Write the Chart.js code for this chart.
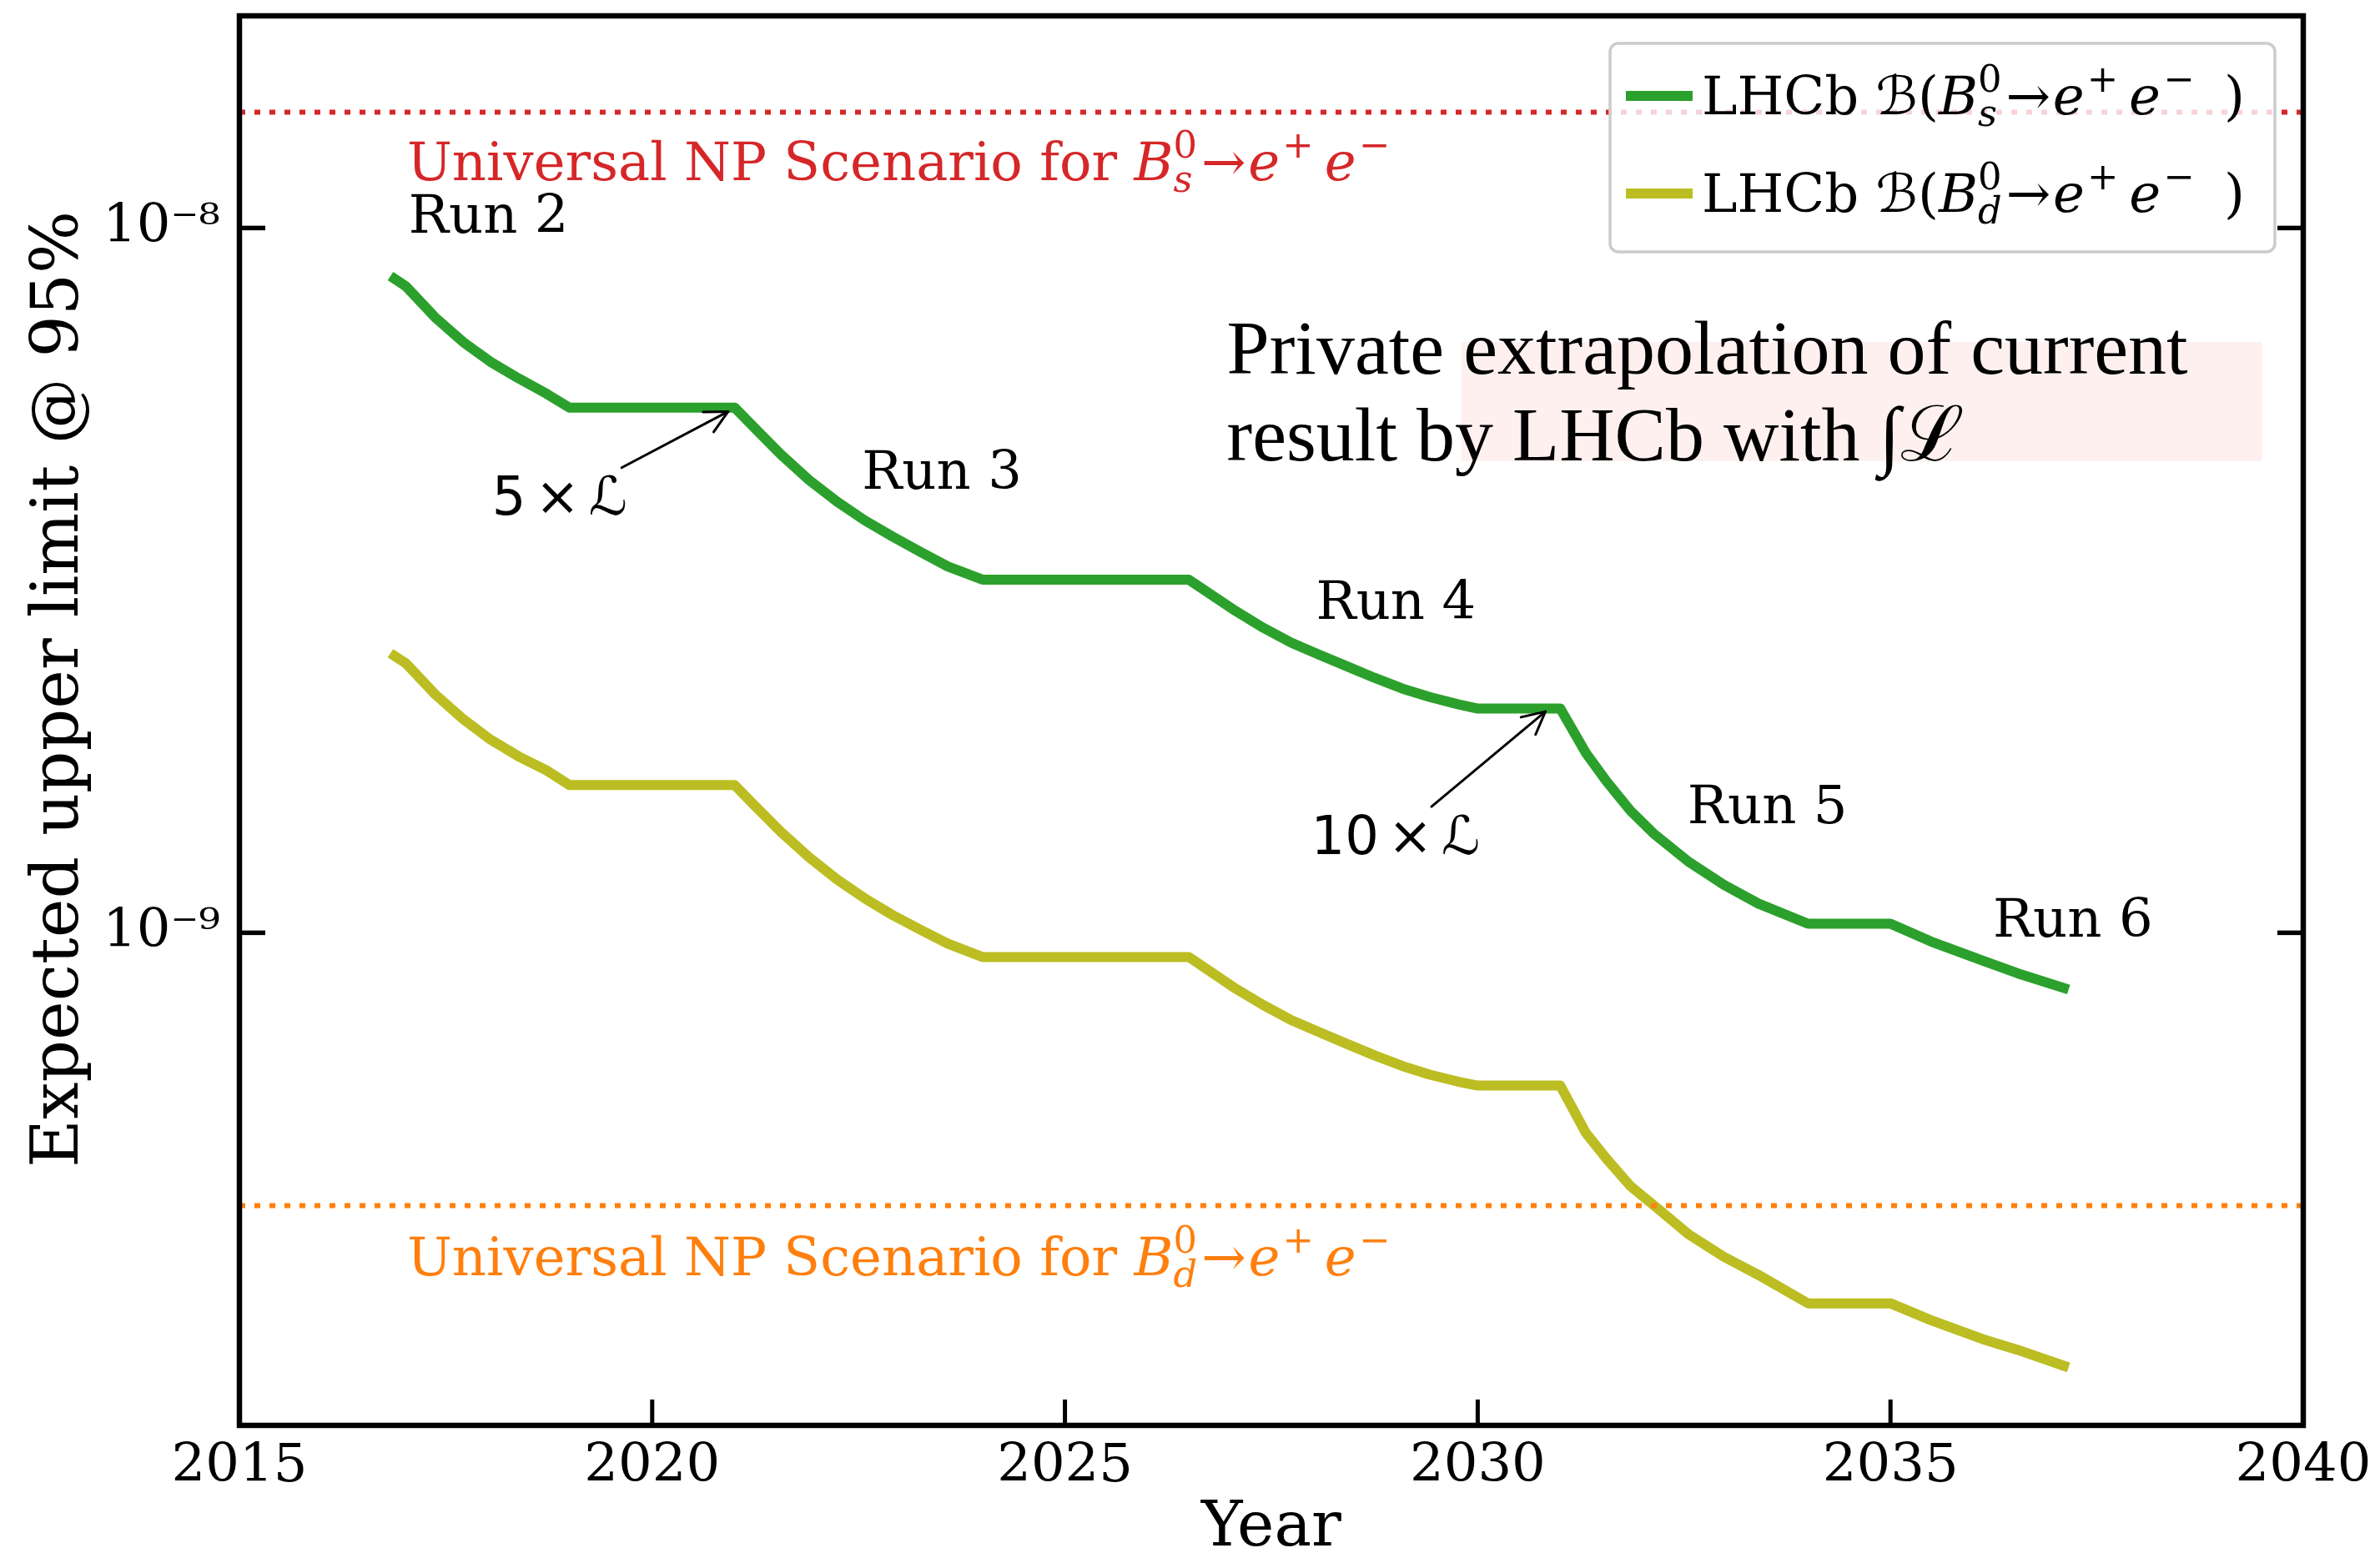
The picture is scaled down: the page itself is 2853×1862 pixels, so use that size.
<!DOCTYPE html>
<html><head><meta charset="utf-8">
<script src="https://cdn.jsdelivr.net/npm/chart.js@4.4.1/dist/chart.umd.min.js"></script>
<style>html,body{margin:0;padding:0;background:#fff;overflow:hidden}</style>
</head><body>
<canvas id="c" width="2853" height="1862" style="width:2853px;height:1862px;display:block"></canvas>
<script>
// ---------- data ----------
const YEARS = [2016.88,2017.02,2017.37,2017.71,2018.04,2018.38,2018.72,2019.00,
  2021.00,2021.23,2021.56,2021.90,2022.24,2022.57,2022.91,2023.25,2023.58,2024.00,
  2026.50,2026.73,2027.07,2027.40,2027.74,2028.08,2028.41,2028.75,2029.09,2029.42,2029.76,2030.00,
  2031.00,2031.31,2031.56,2031.85,2032.14,2032.56,2032.98,2033.40,2034.00,
  2035.00,2035.49,2036.12,2036.54,2037.10];
const BS_LIMIT = [8.47e-9,8.26e-9,7.47e-9,6.89e-9,6.46e-9,6.12e-9,5.82e-9,5.56e-9,
  5.56e-9,5.22e-9,4.77e-9,4.39e-9,4.09e-9,3.85e-9,3.65e-9,3.47e-9,3.31e-9,3.17e-9,
  3.17e-9,3.04e-9,2.86e-9,2.71e-9,2.58e-9,2.48e-9,2.39e-9,2.30e-9,2.22e-9,2.16e-9,2.11e-9,2.08e-9,
  2.08e-9,1.80e-9,1.64e-9,1.49e-9,1.38e-9,1.26e-9,1.17e-9,1.10e-9,1.03e-9,
  1.03e-9,9.72e-10,9.13e-10,8.76e-10,8.35e-10];
const BD_LIMIT = [2.47e-9,2.41e-9,2.18e-9,2.01e-9,1.88e-9,1.78e-9,1.70e-9,1.62e-9,
  1.62e-9,1.52e-9,1.39e-9,1.28e-9,1.19e-9,1.12e-9,1.06e-9,1.01e-9,9.65e-10,9.24e-10,
  9.24e-10,8.86e-10,8.33e-10,7.90e-10,7.52e-10,7.23e-10,6.96e-10,6.70e-10,6.47e-10,6.29e-10,6.15e-10,6.07e-10,
  6.07e-10,5.20e-10,4.78e-10,4.37e-10,4.10e-10,3.73e-10,3.47e-10,3.27e-10,2.98e-10,
  2.98e-10,2.82e-10,2.65e-10,2.56e-10,2.43e-10];
const NP_BS = 1.46e-8;   // universal NP scenario, Bs
const NP_BD = 4.1e-10;   // universal NP scenario, Bd
const X_RANGE = [2015, 2040];
const Y_RANGE = [2e-10, 2e-8];
const Y_TICKS = [2e-10,3e-10,4e-10,5e-10,6e-10,7e-10,8e-10,9e-10,1e-9,
  2e-9,3e-9,4e-9,5e-9,6e-9,7e-9,8e-9,9e-9,1e-8,2e-8];
const Y_LABELED = [1e-9, 1e-8];
const RUN_NAMES = ['Run 2','Run 3','Run 4','Run 5','Run 6'];
const RUN_X = [2017.05, 2022.54, 2028.04, 2032.54, 2036.24];
const RUN_Y = [0.986e-8, 4.27e-9, 2.79e-9, 1.43e-9, 9.87e-10];

// ---------- helpers ----------
const SUP = {'0':'⁰','1':'¹','2':'²','3':'³','4':'⁴','5':'⁵','6':'⁶','7':'⁷','8':'⁸','9':'⁹','-':'⁻'};
function sciLabel(v){ const e = Math.round(Math.log10(v)); return '10' + String(e).split('').map(c=>SUP[c]).join(''); }
const SERIF = '"DejaVu Serif", serif';
const SANS = '"DejaVu Sans", sans-serif';

function rich(ctx, x, y, parts, size, color, fam){
  ctx.save(); ctx.fillStyle = color; ctx.textBaseline = 'alphabetic'; ctx.textAlign = 'left';
  let cx = x, held = 0;
  for (const p of parts){
    const small = p.sup || p.sub;
    const s = small ? size*0.7 : size;
    ctx.font = (p.it ? 'italic ' : '') + s + 'px ' + (p.fam || fam);
    const dy = p.sup ? -0.42*size : (p.sub ? 0.22*size : 0);
    const pre = (p.pre||0)*size;
    ctx.fillText(p.t, cx + pre, y + dy);
    const w = ctx.measureText(p.t).width + pre + (p.post||0)*size;
    if (p.stack){ held = Math.max(held, w); }
    else { cx += Math.max(w, held); held = 0; }
  }
  ctx.restore();
  return cx;
}
function decay(q){
  return [{t:'B',it:1},{t:'0',sup:1,stack:1},{t:q,sub:1,it:1},{t:'→',pre:0.08,post:0.04},
          {t:'e',it:1},{t:'+',sup:1,pre:0.05,post:0.2},{t:'e',it:1},{t:'−',sup:1,pre:0.05,post:0.2}];
}

const annotations = {
  id: 'annotations',
  beforeDatasetsDraw(chart){
    const ctx = chart.ctx, xs = chart.scales.x, ys = chart.scales.y;
    const x0 = xs.getPixelForValue(2029.8), x1 = xs.getPixelForValue(2039.5);
    const y0 = ys.getPixelForValue(6.89e-9), y1 = ys.getPixelForValue(4.67e-9);
    ctx.save(); ctx.fillStyle = '#fdf0ef'; ctx.fillRect(x0, y0, x1-x0, y1-y0); ctx.restore();
  },
  afterDatasetsDraw(chart){
    const ctx = chart.ctx, xs = chart.scales.x, ys = chart.scales.y, ca = chart.chartArea;
    const px = v => xs.getPixelForValue(v), py = v => ys.getPixelForValue(v);
    ctx.save();
    ctx.strokeStyle = '#000'; ctx.lineCap = 'butt';
    const seg = (a,b,c,d,w)=>{ ctx.lineWidth = w; ctx.beginPath(); ctx.moveTo(a,b); ctx.lineTo(c,d); ctx.stroke(); };
    xs.ticks.forEach(t => { const X = px(t.value); seg(X, ca.bottom, X, ca.bottom-31, 5); });
    ys.ticks.forEach(t => {
      const Y = py(t.value); const major = Y_LABELED.includes(t.value);
      const L = major ? 31 : 18, w = major ? 5.5 : 5;
      seg(ca.left, Y, ca.left+L, Y, w); seg(ca.right, Y, ca.right-L, Y, w);
    });
    ctx.lineWidth = 6.5; ctx.strokeRect(ca.left, ca.top, ca.right-ca.left, ca.bottom-ca.top);

    ctx.fillStyle = '#000'; ctx.font = '64px ' + SERIF; ctx.textBaseline = 'alphabetic'; ctx.textAlign = 'left';
    RUN_NAMES.forEach((s,i) => ctx.fillText(s, px(RUN_X[i]), py(RUN_Y[i])));

    rich(ctx, px(2017.03), py(1.17e-8), [{t:'Universal NP Scenario for '}].concat(decay('s')), 64, '#d62728', SERIF);
    rich(ctx, px(2017.03), py(3.27e-10), [{t:'Universal NP Scenario for '}].concat(decay('d')), 64, '#ff7f0e', SERIF);

    rich(ctx, px(2018.06), py(3.92e-9), [{t:'5',post:0.17},{t:'×',post:0.17},{t:'ℒ'}], 64, '#000', SANS);
    rich(ctx, px(2027.98), py(1.295e-9), [{t:'10',post:0.17},{t:'×',post:0.17},{t:'ℒ'}], 64, '#000', SANS);
    const arrow = (xa,ya,xb,yb) => {
      const X1=px(xa),Y1=py(ya),X2=px(xb),Y2=py(yb);
      ctx.lineWidth = 3; ctx.strokeStyle = '#000'; ctx.lineCap='round'; ctx.lineJoin='round';
      ctx.beginPath(); ctx.moveTo(X1,Y1); ctx.lineTo(X2,Y2); ctx.stroke();
      const a = Math.atan2(Y2-Y1, X2-X1), L = 30, w = 0.47;
      ctx.beginPath();
      ctx.moveTo(X2 - L*Math.cos(a-w), Y2 - L*Math.sin(a-w)); ctx.lineTo(X2,Y2);
      ctx.lineTo(X2 - L*Math.cos(a+w), Y2 - L*Math.sin(a+w)); ctx.stroke();
    };
    arrow(2019.63, 4.57e-9, 2020.92, 5.49e-9);
    arrow(2029.44, 1.51e-9, 2030.82, 2.06e-9);

    ctx.fillStyle = '#000'; ctx.font = '92px "Liberation Serif", serif'; ctx.textAlign = 'left';
    ctx.fillText('Private extrapolation of current', px(2026.96), py(6.22e-9));
    ctx.fillText('result by LHCb with ∫ℒ', px(2026.96), py(4.68e-9));

    // legend
    const lx = ca.right - 831, ly = ca.top + 33, lw = 797, lh = 250, r = 10;
    ctx.fillStyle = 'rgba(255,255,255,0.8)'; ctx.strokeStyle = '#cccccc'; ctx.lineWidth = 3.5;
    ctx.beginPath(); ctx.roundRect(lx, ly, lw, lh, r); ctx.fill(); ctx.stroke();
    const items = [[chart.data.datasets[2], 's', 63], [chart.data.datasets[3], 'd', 180]];
    items.forEach(([ds, q, dy]) => {
      ctx.strokeStyle = ds.borderColor; ctx.lineWidth = 12; ctx.lineCap = 'butt';
      ctx.beginPath(); ctx.moveTo(lx+19, ly+dy); ctx.lineTo(lx+99, ly+dy); ctx.stroke();
      rich(ctx, lx+110, ly+dy+22,
        [{t:'LHCb '},{t:'ℬ',fam:'"DejaVu Serif","DejaVu Sans"',it:1},{t:'('}].concat(decay(q)).concat([{t:')',pre:0.35}]),
        64, '#000', SERIF);
    });
    ctx.restore();
  }
};

const pts = (ys) => YEARS.map((x,i) => ({x, y: ys[i]}));
const curve = { borderWidth: 12, borderCapStyle:'square', borderJoinStyle:'round', pointRadius: 0, tension: 0 };
new Chart(document.getElementById('c'), {
  type: 'line',
  data: { datasets: [
    { label: 'Universal NP Bs', data: [{x:X_RANGE[0],y:NP_BS},{x:X_RANGE[1],y:NP_BS}], borderColor:'#d62728',
      borderWidth: 6, borderDash: [7,11], borderCapStyle:'butt', pointRadius: 0, order: 0 },
    { label: 'Universal NP Bd', data: [{x:X_RANGE[0],y:NP_BD},{x:X_RANGE[1],y:NP_BD}], borderColor:'#ff7f0e',
      borderWidth: 6, borderDash: [7,11], borderCapStyle:'butt', pointRadius: 0, order: 0 },
    Object.assign({ label: 'LHCb B(Bs0→e+e−)', data: pts(BS_LIMIT), borderColor:'#2ca02c', order: 1 }, curve),
    Object.assign({ label: 'LHCb B(Bd0→e+e−)', data: pts(BD_LIMIT), borderColor:'#bcbd22', order: 2 }, curve)
  ]},
  options: {
    responsive: false, animation: false, devicePixelRatio: 1,
    layout: { padding: { left: 0, top: 19, right: 92, bottom: 0 } },
    plugins: { legend: { display: false }, tooltip: { enabled: false } },
    scales: {
      x: { type: 'linear', min: X_RANGE[0], max: X_RANGE[1],
        grid: { display: false }, border: { display: false },
        ticks: { stepSize: 5, color: '#000', font: { family: SERIF, size: 64 }, padding: 4, maxRotation: 0,
                 callback: v => String(v) },
        title: { display: true, text: 'Year', color: '#000', font: { family: SERIF, size: 75, lineHeight: 1 },
                 padding: { top: 0, bottom: -9 } },
        afterFit: s => { s.height = 153; s.paddingLeft = 0; s.paddingRight = 0; } },
      y: { type: 'logarithmic', min: Y_RANGE[0], max: Y_RANGE[1],
        grid: { display: false }, border: { display: false },
        afterBuildTicks: s => { s.ticks = Y_TICKS.map(v => ({ value: v })); },
        ticks: { color: '#000', font: { family: SERIF, size: 64 }, padding: 15, autoSkip: false,
                 callback: v => Y_LABELED.includes(v) ? sciLabel(v) : null },
        title: { display: true, text: '\u00a0\u00a0\u00a0Expected upper limit @ 95%', color: '#000',
                 font: { family: SERIF, size: 79, lineHeight: 1 }, padding: { top: 33, bottom: 0 } },
        afterFit: s => { s.width = 287; s.paddingTop = 0; s.paddingBottom = 0; } }
    }
  },
  plugins: [annotations]
});
</script>
</body></html>
